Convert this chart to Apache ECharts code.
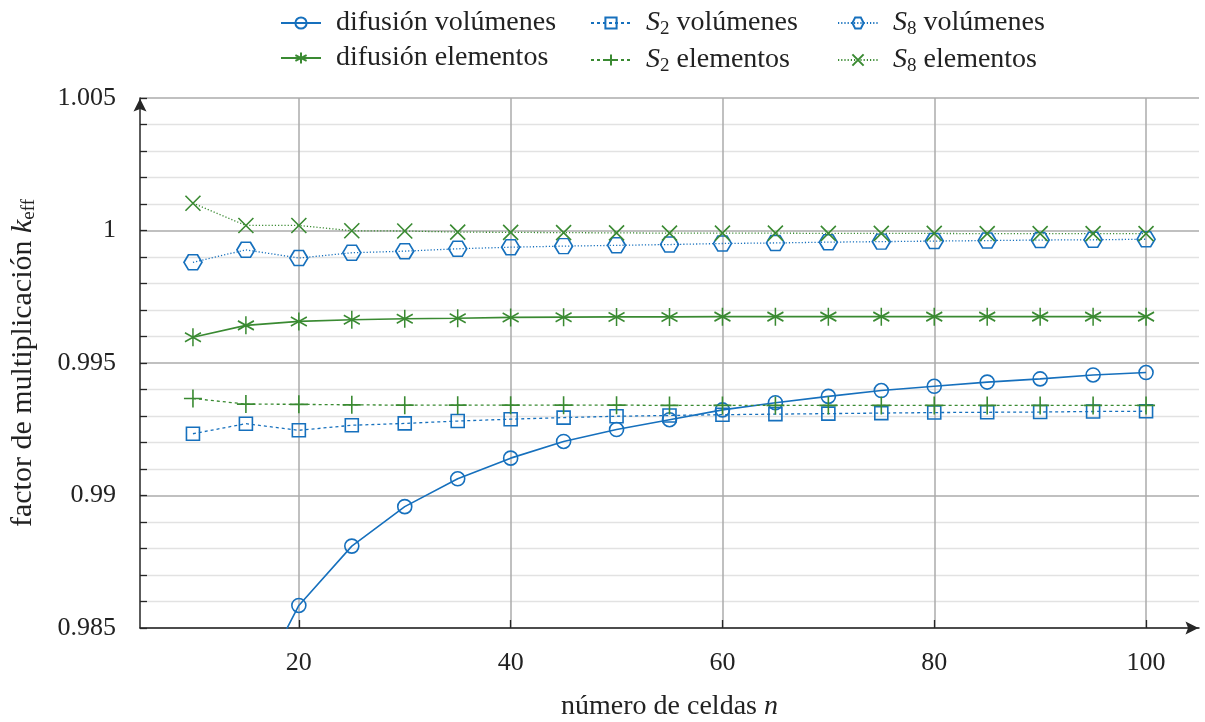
<!DOCTYPE html>
<html>
<head>
<meta charset="utf-8">
<script src="https://cdn.jsdelivr.net/npm/echarts@6/dist/echarts.min.js"></script>
<style>
  html, body { margin: 0; padding: 0; background: #fff; }
  #chart { width: 1205px; height: 722px; }
</style>
</head>
<body>
<div id="chart"></div>
<script>
// número de celdas n
const cells = [10, 15, 20, 25, 30, 35, 40, 45, 50, 55, 60, 65, 70, 75, 80, 85, 90, 95, 100];

// k_eff per method and discretisation
const diffusionVolumes = [0.9752, 0.9820, 0.98585, 0.98809, 0.98958, 0.99063, 0.99141, 0.99204, 0.99249, 0.99286,
  0.99323, 0.99350, 0.99374, 0.99396, 0.99412, 0.99428, 0.99440, 0.99455, 0.99464];
const diffusionElements = [0.99597, 0.99642, 0.99657, 0.99663, 0.99667, 0.99669, 0.99672, 0.99673, 0.99674, 0.99674,
  0.99675, 0.99675, 0.99675, 0.99675, 0.99675, 0.99675, 0.99675, 0.99675, 0.99675];
const s2Volumes = [0.99233, 0.99271, 0.99246, 0.99265, 0.99272, 0.99281, 0.99288, 0.99294, 0.99299, 0.99302,
  0.99305, 0.99307, 0.99309, 0.99311, 0.99313, 0.99314, 0.99315, 0.99317, 0.99318];
const s2Elements = [0.99366, 0.99345, 0.99344, 0.99342, 0.99341, 0.99341, 0.99341, 0.99341, 0.99341, 0.99340,
  0.99340, 0.99340, 0.99340, 0.99340, 0.99340, 0.99340, 0.99340, 0.99340, 0.99340];
const s8Volumes = [0.99880, 0.99927, 0.99896, 0.99916, 0.99922, 0.99931, 0.99937, 0.99941, 0.99944, 0.99947,
  0.99951, 0.99953, 0.99956, 0.99958, 0.99960, 0.99962, 0.99964, 0.99965, 0.99967];
const s8Elements = [1.00103, 1.00019, 1.00019, 0.99999, 0.99998, 0.99994, 0.99993, 0.99992, 0.99991, 0.99990,
  0.99990, 0.99990, 0.99989, 0.99989, 0.99989, 0.99988, 0.99988, 0.99988, 0.99988];

// axis ticks
const xTicks = [20, 40, 60, 80, 100];
const xRange = [5, 105];
const yRange = [0.985, 1.005];
const yStep = 0.005;

const BLUE = '#1670bd';
const GREEN = '#3a8a32';
const FONT = 'Liberation Serif';
const TEXT = '#222';
const AXIS = '#262626';

const SYM = {
  hexagon: 'path://M0 50 L25 6.7 L75 6.7 L100 50 L75 93.3 L25 93.3 Z',
  asterisk: 'path://M50 0 L50 100 M6.7 25 L93.3 75 M6.7 75 L93.3 25',
  plus: 'path://M50 0 L50 100 M0 50 L100 50',
  cross: 'path://M0 0 L100 100 M0 100 L100 0',
  arrowHead: 'path://M50 0 L100 100 L50 80 L0 100 Z'
};

const pair = arr => cells.map((n, i) => [n, arr[i]]);

function lineSeries(name, data, color, dash, symbol, size, width) {
  return {
    name: name,
    type: 'line',
    data: pair(data),
    symbol: symbol,
    symbolSize: size,
    showAllSymbol: true,
    clip: true,
    lineStyle: { color: color, width: width, type: dash },
    itemStyle: { color: 'rgba(255,255,255,0)', borderColor: color, borderWidth: 1.6 },
    emphasis: { disabled: true },
    animation: false
  };
}

const series = [
  lineSeries('difusión volúmenes', diffusionVolumes, BLUE, 'solid', 'circle', 14, 1.6),
  lineSeries('difusión elementos', diffusionElements, GREEN, 'solid', SYM.asterisk, [16, 18], 1.6),
  lineSeries('S2 volúmenes', s2Volumes, BLUE, [3, 3], 'rect', 13, 1.3),
  lineSeries('S2 elementos', s2Elements, GREEN, [3, 3], SYM.plus, 18, 1.3),
  lineSeries('S8 volúmenes', s8Volumes, BLUE, [1.2, 2], SYM.hexagon, [18, 15], 1.3),
  lineSeries('S8 elementos', s8Elements, GREEN, [1.2, 2], SYM.cross, 15, 1.3)
];

const richText = {
  t: { fontFamily: FONT, fontSize: 28, lineHeight: 32, color: TEXT, verticalAlign: 'middle', padding: [0, 0, 0, 10] },
  s: { fontFamily: FONT, fontSize: 28, lineHeight: 32, color: TEXT, verticalAlign: 'middle' },
  i: { fontFamily: FONT, fontSize: 28, lineHeight: 32, color: TEXT, fontStyle: 'italic', verticalAlign: 'middle', padding: [0, 0, 0, 10] },
  sub: { fontFamily: FONT, fontSize: 19, lineHeight: 20, color: TEXT, verticalAlign: 'bottom' }
};

function legendLabel(name) {
  const m = name.match(/^S(\d) (.*)$/);
  if (m) return '{i|S}{sub|' + m[1] + '}{s| ' + m[2] + '}';
  return '{t|' + name + '}';
}

function legendColumn(left, names) {
  return {
    orient: 'vertical',
    left: left,
    top: 9,
    padding: 0,
    itemGap: 7,
    itemWidth: 40,
    itemHeight: 14,
    selectedMode: false,
    data: names,
    formatter: legendLabel,
    textStyle: { rich: richText }
  };
}

const chart = echarts.init(document.getElementById('chart'), null, { renderer: 'canvas' });

chart.setOption({
  animation: false,
  backgroundColor: '#fff',
  textStyle: { fontFamily: FONT },
  grid: { left: 140, right: 6, top: 98, bottom: 94, containLabel: false, outerBoundsMode: 'none' },
  legend: [
    legendColumn(280, ['difusión volúmenes', 'difusión elementos']),
    legendColumn(590, ['S2 volúmenes', 'S2 elementos']),
    legendColumn(837, ['S8 volúmenes', 'S8 elementos'])
  ],
  xAxis: {
    type: 'value',
    min: xRange[0],
    max: xRange[1],
    name: '{s|número de celdas }{n|n}',
    nameLocation: 'middle',
    nameGap: 63,
    nameTextStyle: {
      rich: {
        s: { fontFamily: FONT, fontSize: 28, lineHeight: 32, color: TEXT },
        n: { fontFamily: FONT, fontSize: 28, lineHeight: 32, color: TEXT, fontStyle: 'italic' }
      }
    },
    axisLine: {
      show: true, onZero: false,
      lineStyle: { color: AXIS, width: 1.5 },
      symbol: ['none', SYM.arrowHead], symbolSize: [13, 18], symbolOffset: [0, -7]
    },
    axisTick: { show: true, inside: true, length: 8, customValues: xTicks, lineStyle: { color: AXIS, width: 1.3 } },
    axisLabel: { customValues: xTicks, margin: 22, fontFamily: FONT, fontSize: 26, color: TEXT },
    splitLine: { show: true, lineStyle: { color: '#ababab', width: 1.5 } }
  },
  yAxis: {
    type: 'value',
    min: yRange[0],
    max: yRange[1],
    interval: yStep,
    name: '{s|factor de multiplicación }{k|k}{sub|eff}',
    nameLocation: 'middle',
    nameGap: 101,
    nameTextStyle: {
      rich: {
        s: { fontFamily: FONT, fontSize: 30, lineHeight: 32, color: TEXT, verticalAlign: 'middle' },
        k: { fontFamily: FONT, fontSize: 30, lineHeight: 32, color: TEXT, fontStyle: 'italic', verticalAlign: 'middle' },
        sub: { fontFamily: FONT, fontSize: 19, lineHeight: 20, color: TEXT, verticalAlign: 'bottom' }
      }
    },
    axisLine: {
      show: true, onZero: false,
      lineStyle: { color: AXIS, width: 1.5 },
      symbol: ['none', SYM.arrowHead], symbolSize: [13, 18], symbolOffset: [0, -7]
    },
    axisTick: { show: true, inside: true, length: 7, lineStyle: { color: AXIS, width: 1.3 } },
    minorTick: { show: true, splitNumber: 5, length: 7, lineStyle: { color: AXIS, width: 1.3 } },
    axisLabel: {
      margin: 24, fontFamily: FONT, fontSize: 26, color: TEXT,
      formatter: v => String(parseFloat(v.toFixed(3)))
    },
    splitLine: { show: true, lineStyle: { color: '#ababab', width: 1.5 } },
    minorSplitLine: { show: true, lineStyle: { color: '#e2e2e2', width: 1.3 } }
  },
  series: series
});
</script>
</body>
</html>
